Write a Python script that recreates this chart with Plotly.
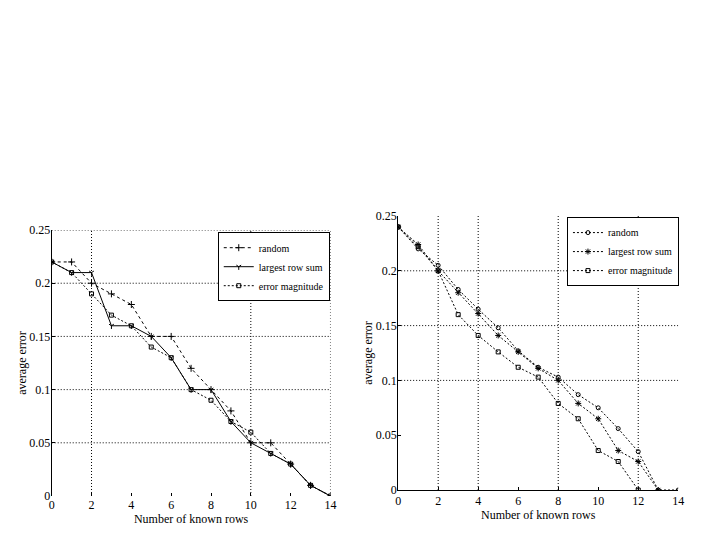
import plotly.graph_objects as go

x_left = list(range(15))
left_random = [0.22, 0.22, 0.20, 0.19, 0.18, 0.15, 0.15, 0.12, 0.10, 0.08, 0.05, 0.05, 0.03, 0.01, 0.00]
left_largest = [0.22, 0.21, 0.21, 0.16, 0.16, 0.15, 0.13, 0.10, 0.10, 0.07, 0.05, 0.04, 0.03, 0.01, 0.00]
left_error = [0.22, 0.21, 0.19, 0.17, 0.16, 0.14, 0.13, 0.10, 0.09, 0.07, 0.06, 0.04, 0.03, 0.01, 0.00]

x_right_random = list(range(15))
right_random = [0.24, 0.220, 0.205, 0.183, 0.165, 0.148, 0.127, 0.112, 0.103, 0.087, 0.075, 0.056, 0.035, 0.0, 0.0]
x_right_largest = list(range(14))
right_largest = [0.24, 0.224, 0.200, 0.180, 0.161, 0.141, 0.126, 0.111, 0.100, 0.079, 0.065, 0.036, 0.026, 0.0]
x_right_error = list(range(13))
right_error = [0.24, 0.222, 0.200, 0.160, 0.141, 0.126, 0.112, 0.103, 0.079, 0.065, 0.036, 0.026, 0.0]

legend_names = ["random", "largest row sum", "error magnitude"]
x_ticks = [0, 2, 4, 6, 8, 10, 12, 14]
y_ticks = [0, 0.05, 0.1, 0.15, 0.2, 0.25]
y_tick_text = ["0", "0.05", "0.1", "0.15", "0.2", "0.25"]
left_vgrid = [2, 10, 14]
left_hgrid = [0.05, 0.1, 0.15, 0.2, 0.25]
right_vgrid = [2, 4, 8, 12]
right_hgrid = [0.1, 0.15, 0.2]

FONT = "Liberation Serif"
fig = go.Figure()

mk_line = dict(width=1, color="black")
# left panel
fig.add_trace(go.Scatter(x=x_left, y=left_random, name=legend_names[0], mode="lines+markers",
                         line=dict(color="black", width=1, dash="dot"),
                         marker=dict(symbol="cross-thin-open", size=5, color="black", line=mk_line),
                         xaxis="x", yaxis="y", legend="legend"))
fig.add_trace(go.Scatter(x=x_left, y=left_largest, name=legend_names[1], mode="lines+markers",
                         line=dict(color="black", width=1),
                         marker=dict(symbol="y-down-open", size=4, color="black", line=mk_line),
                         xaxis="x", yaxis="y", legend="legend"))
fig.add_trace(go.Scatter(x=x_left, y=left_error, name=legend_names[2], mode="lines+markers",
                         line=dict(color="black", width=1, dash="2px,2px"),
                         marker=dict(symbol="square-open", size=4, color="black", line=mk_line),
                         xaxis="x", yaxis="y", legend="legend"))

# right panel
fig.add_trace(go.Scatter(x=x_right_random, y=right_random, name=legend_names[0], mode="lines+markers",
                         line=dict(color="black", width=1, dash="2px,2px"),
                         marker=dict(symbol="circle-open", size=4, color="black", line=mk_line),
                         xaxis="x2", yaxis="y2", legend="legend2"))
fig.add_trace(go.Scatter(x=x_right_largest, y=right_largest, name=legend_names[1], mode="lines+markers",
                         line=dict(color="black", width=1, dash="2px,2px"),
                         marker=dict(symbol="asterisk-open", size=5, color="black", line=mk_line),
                         xaxis="x2", yaxis="y2", legend="legend2"))
fig.add_trace(go.Scatter(x=x_right_error, y=right_error, name=legend_names[2], mode="lines+markers",
                         line=dict(color="black", width=1, dash="2px,2px"),
                         marker=dict(symbol="square-open", size=4, color="black", line=mk_line),
                         xaxis="x2", yaxis="y2", legend="legend2"))

grid_style = dict(color="black", width=1, dash="1px,2px")
for xv in left_vgrid:
    fig.add_shape(type="line", xref="x", yref="y", x0=xv, x1=xv, y0=0, y1=0.25, line=grid_style, layer="below")
for yv in left_hgrid:
    fig.add_shape(type="line", xref="x", yref="y", x0=0, x1=14, y0=yv, y1=yv, line=grid_style, layer="below")
for xv in right_vgrid:
    fig.add_shape(type="line", xref="x2", yref="y2", x0=xv, x1=xv, y0=0, y1=0.25, line=grid_style, layer="below")
for yv in right_hgrid:
    fig.add_shape(type="line", xref="x2", yref="y2", x0=0, x1=14, y0=yv, y1=yv, line=grid_style, layer="below")

axis_common = dict(linecolor="black", linewidth=1, ticks="inside", ticklen=3,
                   tickcolor="black", tickfont=dict(family=FONT, size=12, color="black"),
                   zeroline=False, mirror=False, showgrid=False, automargin=False)
title_font = dict(family=FONT, size=12, color="black")

fig.update_layout(
    width=720, height=540,
    margin=dict(l=0, r=0, t=0, b=0),
    paper_bgcolor="white", plot_bgcolor="white",
    font=dict(family=FONT, color="black"),
    xaxis=dict(domain=[0.0718, 0.459], range=[0, 14], tickvals=x_ticks, anchor="y", showline=False,
               title=dict(text="Number of known rows", font=title_font, standoff=0), **axis_common),
    yaxis=dict(domain=[0.0815, 0.574], range=[0, 0.25], tickvals=y_ticks, ticktext=y_tick_text, anchor="x",
               showline=True, ticklabelstandoff=-2,
               title=dict(text="average error", font=title_font, standoff=0), **axis_common),
    xaxis2=dict(domain=[0.553, 0.942], range=[0, 14], tickvals=x_ticks, anchor="y2", showline=True,
                title=dict(text="Number of known rows", font=title_font, standoff=0), **axis_common),
    yaxis2=dict(domain=[0.0926, 0.6], range=[0, 0.25], tickvals=y_ticks, ticktext=y_tick_text, anchor="x2",
                showline=True, ticklabelstandoff=-2,
                title=dict(text="average error", font=title_font, standoff=0), **axis_common),
    legend=dict(x=0.458, y=0.570, xanchor="right", yanchor="top", bgcolor="white",
                bordercolor="black", borderwidth=1, font=dict(family=FONT, size=10), tracegroupgap=0,
                itemwidth=30),
    legend2=dict(x=0.943, y=0.598, xanchor="right", yanchor="top", bgcolor="white",
                 bordercolor="black", borderwidth=1, font=dict(family=FONT, size=10), tracegroupgap=0,
                 itemwidth=30),
    showlegend=True,
)

fig.write_html("out.html", config={"displayModeBar": False},
               post_script="document.body.style.margin='0';")
